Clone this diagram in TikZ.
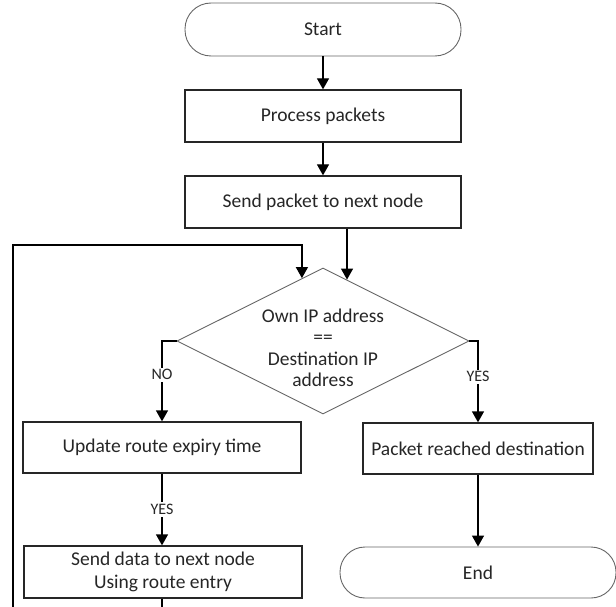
\documentclass[tikz,border=0pt]{standalone}
\usepackage{fontspec}
\setmainfont{Carlito}
\usetikzlibrary{arrows.meta,shapes.geometric,calc}
\begin{document}
\begin{tikzpicture}[x=1pt,y=-1pt,
  txt/.style={font=\fontsize{19.5}{22.5}\selectfont,align=center,text=black!85},
  box/.style={txt,draw=black!85,line width=1.3pt,inner sep=0pt,minimum height=52pt},
  term/.style={txt,draw=black!60,line width=0.9pt,inner sep=0pt,rounded corners=26pt,minimum height=53pt},
  arr/.style={-{Triangle[length=11pt,width=12pt]},line width=1.3pt,draw=black},
  lbl/.style={fill=white,inner sep=2pt,font=\fontsize{16}{16}\selectfont,text=black!85}]
  \useasboundingbox (0,0) rectangle (616,607);
  \clip (0,0) rectangle (616,607);

  % start / process chain
  \node[term,minimum width=276pt] (start) at (323,29.5) {Start};
  \node[box,minimum width=276pt] (proc) at (323,116) {Process packets};
  \node[box,minimum width=276pt] (send) at (323,202) {Send packet to next node};

  % decision
  \node[diamond,draw=black!60,line width=0.9pt,minimum width=292pt,minimum height=146pt,inner sep=0pt] (dec) at (323,341) {};
  \node[txt,font=\fontsize{19.5}{21.5}\selectfont] (dectext) at (323,348) {Own IP address\\==\\Destination IP\\address};
  \coordinate (inA) at ($(dec.north)!0.164!(dec.east)$);
  \coordinate (inB) at ($(dec.north)!0.144!(dec.west)$);

  % branches
  \node[box,minimum width=278pt,minimum height=51pt] (upd) at (162,447.5) {Update route expiry time};
  \node[box,minimum width=278pt,font=\fontsize{19.5}{23}\selectfont] (sd) at (163,572) {Send data to next node\\Using route entry};
  \node[box,minimum width=230pt,minimum height=51pt] (pkt) at (478,448.5) {Packet reached destination};
  \node[term,minimum width=276pt,minimum height=51pt,rounded corners=25pt] (end) at (478,572.5) {End};

  % connectors
  \draw[arr] (start) -- (proc);
  \draw[arr] (proc) -- (send);
  \draw[arr] (send.south -| inA) -- (inA);
  \draw[arr] (dec.west) -| node[lbl,pos=0.71] {NO} (upd.north -| 162,0);
  \draw[arr] (dec.east) -| node[lbl,pos=0.72] {YES} (pkt.north);
  \draw[arr] (upd.south -| 162,0) -- node[lbl,pos=0.5] {YES} (sd.north -| 162,0);
  \draw[arr] (pkt) -- (end);

  % loop back to the decision
  \coordinate (loopbot) at (162,625);
  \draw[arr] (sd.south -| loopbot) -- (loopbot) -- (13,625) -- (13,245) -| (inB);
\end{tikzpicture}
\end{document}
